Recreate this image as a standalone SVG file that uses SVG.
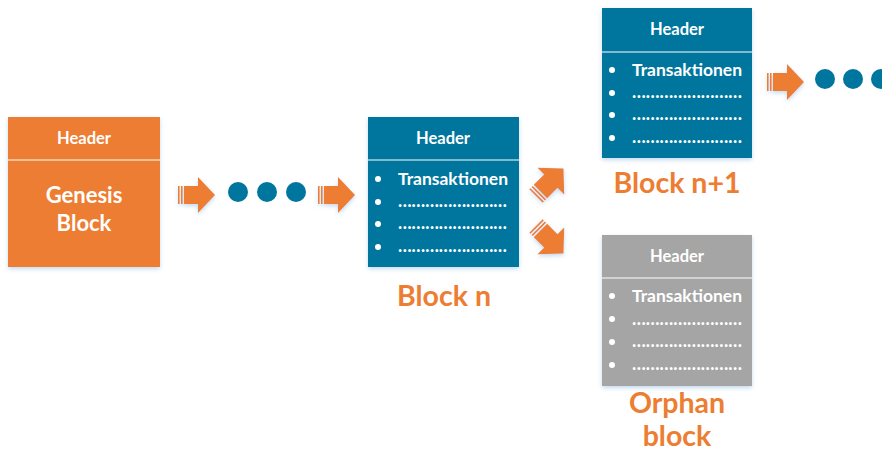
<svg xmlns="http://www.w3.org/2000/svg" width="882" height="454" viewBox="0 0 882 454">
<defs>
<filter id="sh" x="-20%" y="-20%" width="140%" height="140%">
<feDropShadow dx="0" dy="2" stdDeviation="2" flood-color="#9cc3e6" flood-opacity="0.6"/>
</filter>
<g id="arr">
<rect x="0" y="-9" width="1.6" height="18"/>
<rect x="3" y="-9" width="1.6" height="18"/>
<rect x="6" y="-9" width="15" height="18"/>
<polygon points="20,-18 37,0 20,18"/>
</g>
</defs>
<style>
.hd{font-family:Lato,"Open Sans",sans-serif;font-weight:bold;font-size:16.5px;fill:#fff;text-anchor:middle}
.tx{font-family:Lato,"Open Sans",sans-serif;font-weight:bold;font-size:17px;fill:#fff}
.dt{font-family:Lato,"Open Sans",sans-serif;font-weight:bold;font-size:18px;fill:#fff}
.big{font-family:Lato,"Open Sans",sans-serif;font-weight:bold;font-size:22px;fill:#fff;text-anchor:middle}
.lbl{font-family:Lato,"Open Sans",sans-serif;font-weight:bold;font-size:28.5px;fill:#ED7D31;text-anchor:middle}
.div{stroke:#fff;stroke-width:1.2}
.bul{fill:#fff}
.orange{fill:#ED7D31}
.blue{fill:#00769E}
.gray{fill:#A5A5A5}
</style>

<g id="genesis">
<rect x="8" y="117" width="152" height="150" class="orange" filter="url(#sh)"/>
<line x1="8" y1="160" x2="160" y2="160" class="div"/>
<text x="84" y="144" class="hd">Header</text>
<text x="84" y="203" class="big">Genesis</text>
<text x="84" y="231" class="big">Block</text>
</g>

<g id="block-n">
<rect x="368" y="117" width="151" height="150" class="blue" filter="url(#sh)"/>
<line x1="368" y1="160" x2="519" y2="160" class="div"/>
<text x="443" y="144" class="hd">Header</text>
<circle cx="378" cy="179" r="3" class="bul"/>
<circle cx="378" cy="202" r="3" class="bul"/>
<circle cx="378" cy="224" r="3" class="bul"/>
<circle cx="378" cy="247" r="3" class="bul"/>
<text x="398" y="185" class="tx" textLength="110" lengthAdjust="spacingAndGlyphs">Transaktionen</text>
<text x="398" y="207" class="dt" textLength="109" lengthAdjust="spacingAndGlyphs">……………………</text>
<text x="398" y="229" class="dt" textLength="109" lengthAdjust="spacingAndGlyphs">……………………</text>
<text x="398" y="252" class="dt" textLength="109" lengthAdjust="spacingAndGlyphs">……………………</text>
<text x="444" y="306" class="lbl">Block n</text>
</g>

<g id="block-n1">
<rect x="602" y="8" width="150" height="150" class="blue" filter="url(#sh)"/>
<line x1="602" y1="52" x2="752" y2="52" class="div"/>
<text x="677" y="35" class="hd">Header</text>
<circle cx="612" cy="70" r="3" class="bul"/>
<circle cx="612" cy="93" r="3" class="bul"/>
<circle cx="612" cy="115" r="3" class="bul"/>
<circle cx="612" cy="138" r="3" class="bul"/>
<text x="632" y="76" class="tx" textLength="110" lengthAdjust="spacingAndGlyphs">Transaktionen</text>
<text x="632" y="98" class="dt" textLength="110" lengthAdjust="spacingAndGlyphs">……………………</text>
<text x="632" y="120" class="dt" textLength="110" lengthAdjust="spacingAndGlyphs">……………………</text>
<text x="632" y="143" class="dt" textLength="110" lengthAdjust="spacingAndGlyphs">……………………</text>
<text x="677" y="193" class="lbl">Block n+1</text>
</g>

<g id="orphan">
<rect x="602" y="235" width="150" height="151" class="gray" filter="url(#sh)"/>
<line x1="602" y1="278" x2="752" y2="278" class="div"/>
<text x="677" y="262" class="hd">Header</text>
<circle cx="612" cy="296" r="3" class="bul"/>
<circle cx="612" cy="319" r="3" class="bul"/>
<circle cx="612" cy="342" r="3" class="bul"/>
<circle cx="612" cy="365" r="3" class="bul"/>
<text x="632" y="302" class="tx" textLength="110" lengthAdjust="spacingAndGlyphs">Transaktionen</text>
<text x="632" y="325" class="dt" textLength="110" lengthAdjust="spacingAndGlyphs">……………………</text>
<text x="632" y="347" class="dt" textLength="110" lengthAdjust="spacingAndGlyphs">……………………</text>
<text x="632" y="370" class="dt" textLength="110" lengthAdjust="spacingAndGlyphs">……………………</text>
<text x="677" y="413" class="lbl">Orphan</text>
<text x="677" y="446" class="lbl">block</text>
</g>

<g id="connectors">
<g class="orange" filter="url(#sh)">
<use href="#arr" transform="translate(178,195)"/>
<use href="#arr" transform="translate(318,195)"/>
<use href="#arr" transform="translate(767,82)"/>
<use href="#arr" transform="translate(536,196) rotate(-45) scale(1.05)"/>
<use href="#arr" transform="translate(536,226) rotate(45) scale(1.05)"/>
</g>
<g class="blue">
<circle cx="238" cy="192" r="10"/>
<circle cx="267" cy="192" r="10"/>
<circle cx="296" cy="192" r="10"/>
<circle cx="825" cy="79" r="10"/>
<circle cx="853" cy="79" r="10"/>
<circle cx="881" cy="79" r="10"/>
</g>
</g>
</svg>
